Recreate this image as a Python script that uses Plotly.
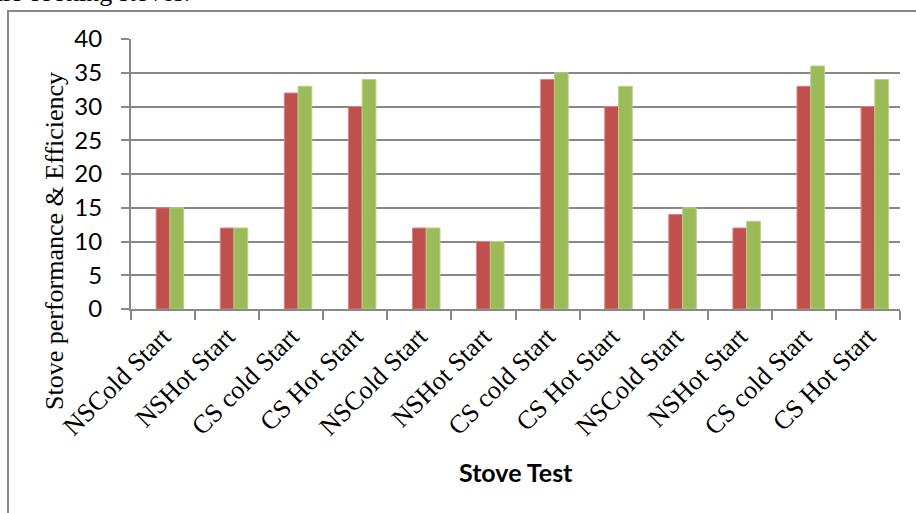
import plotly.graph_objects as go

# Stove test categories (three repeated test series)
categories = [
    "NSCold Start", "NSHot Start", "CS cold Start", "CS Hot Start",
    "NSCold Start", "NSHot Start", "CS cold Start", "CS Hot Start",
    "NSCold Start", "NSHot Start", "CS cold Start", "CS Hot Start",
]
# Empty leading series (kept for its slot in each group)
series_blank = [None] * 12
series_red = [15, 12, 32, 30, 12, 10, 34, 30, 14, 12, 33, 30]
series_green = [15, 12, 33, 34, 12, 10, 35, 33, 15, 13, 36, 34]
y_ticks = [0, 5, 10, 15, 20, 25, 30, 35, 40]

# unique x keys so the repeated labels stay as separate categories
x_keys = list(range(len(categories)))

W, H = 916, 513
L, R, T, B = 131, 16, 39, 204
pw, ph = W - L - R, H - T - B


def px_x(px):
    return (px - L) / pw


def px_y(py):
    return (H - B - py) / ph


GRID = "#888888"

fig = go.Figure()
fig.add_trace(go.Bar(x=x_keys, y=series_blank, marker_color="#4F81BD",
                     showlegend=False))
fig.add_trace(go.Bar(x=x_keys, y=series_red, marker_color="#C0504D",
                     marker_line=dict(color="#D68482", width=1),
                     showlegend=False))
fig.add_trace(go.Bar(x=x_keys, y=series_green, marker_color="#9BBB59",
                     marker_line=dict(color="#B9D08A", width=1),
                     showlegend=False))

fig.update_layout(
    width=W, height=H,
    margin=dict(l=L, r=R, t=T, b=B, pad=0),
    paper_bgcolor="white", plot_bgcolor="white",
    barmode="group", bargap=0.356, bargroupgap=0,
    showlegend=False,
)

fig.update_xaxes(
    type="category",
    tickmode="array", tickvals=x_keys, ticktext=categories,
    tickangle=-45,
    tickfont=dict(family="Liberation Serif", size=26, color="black"),
    showline=True, linecolor=GRID, linewidth=2,
    ticks="outside", tickson="boundaries", ticklen=9, tickwidth=2,
    tickcolor=GRID,
    showgrid=False, zeroline=False,
    range=[-0.5, 11.5],
)
fig.update_yaxes(
    range=[0, 40], tickmode="array", tickvals=y_ticks,
    tickfont=dict(family="Lato", size=24, color="black"),
    showline=True, linecolor=GRID, linewidth=2,
    ticks="outside", ticklen=8, tickwidth=2, tickcolor=GRID,
    ticklabelstandoff=14,
    showgrid=True, gridcolor=GRID, gridwidth=2,
    zeroline=False,
)

# chart frame
fig.add_shape(type="rect", xref="paper", yref="paper",
              x0=px_x(8), x1=px_x(W + 20), y0=px_y(H + 20), y1=px_y(11),
              line=dict(color=GRID, width=2), fillcolor="rgba(0,0,0,0)",
              layer="below")

# axis titles
fig.add_annotation(text="Stove performance &amp; Efficiency", textangle=-90,
                   xref="paper", yref="paper", x=px_x(54), y=px_y(241),
                   xanchor="center", yanchor="middle", showarrow=False,
                   font=dict(family="Liberation Serif", size=26, color="black"))
fig.add_annotation(text="<b>Stove Test</b>",
                   xref="paper", yref="paper", x=px_x(516), y=px_y(472),
                   xanchor="center", yanchor="middle", showarrow=False,
                   font=dict(family="Lato", size=25, color="black"))

# running text above the chart
fig.add_annotation(text="domestic cooking stoves.",
                   xref="paper", yref="paper", x=px_x(192), y=px_y(-8),
                   xanchor="right", yanchor="middle", showarrow=False,
                   font=dict(family="Liberation Serif", size=26, color="black"))

fig.write_html("out.html")
